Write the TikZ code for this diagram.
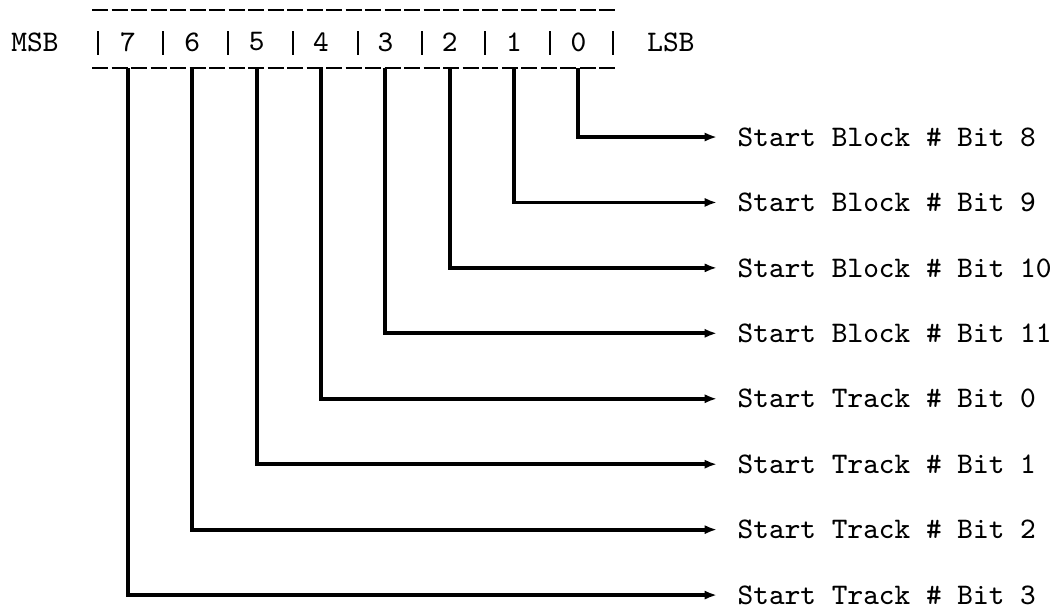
\documentclass[tikz,border=0pt]{standalone}
\usepackage{tikz}
\usetikzlibrary{arrows.meta,positioning}
\newcommand{\regfont}{\fontsize{8.5}{10}\selectfont\ttfamily}
\tikzset{
bitnum/.style = {font=\regfont, inner sep=0pt},
bitlabel/.style = {font=\regfont, anchor=west, inner xsep=0.2cm, inner ysep=0pt},
sep/.style = {line width=0.5pt},
rule/.style = {line width=0.8pt, dash pattern=on 0.16cm off 0.035cm},
wire/.style = {line width=1.1pt, -{Latex[length=3.5pt,width=2.6pt]}}
}

\begin{document}
\begin{tikzpicture}[x=0.01cm, y=-0.01cm, node distance=0.643cm]
\useasboundingbox (0,0) rectangle (1063,611);
\node[bitnum] (msb) at (35,42) {MSB};
\node[bitnum] (b7) at (128,42) {7};
\node[bitnum, right of=b7] (b6) {6};
\node[bitnum, right of=b6] (b5) {5};
\node[bitnum, right of=b5] (b4) {4};
\node[bitnum, right of=b4] (b3) {3};
\node[bitnum, right of=b3] (b2) {2};
\node[bitnum, right of=b2] (b1) {1};
\node[bitnum, right of=b1] (b0) {0};
\node[bitnum] (lsb) at (671,42) {LSB};
\coordinate (tl) at (92,10);
\coordinate (tr) at (617,10);
\coordinate (bl) at (92,68);
\coordinate (br) at (617,68);
\draw[rule] (tl) -- (tr);
\draw[rule] (bl) -- (br);
\draw[sep] (98,31) -- (98,55) (163,31) -- (163,55) (228,31) -- (228,55)
  (293,31) -- (293,55) (358,31) -- (358,55) (422,31) -- (422,55)
  (485,31) -- (485,55) (550,31) -- (550,55) (613,31) -- (613,55);
\node[bitlabel] (l0) at (717,137) {Start Block \# Bit 8};
\node[bitlabel, below=0.654cm of l0.west, anchor=west] (l1) {Start Block \# Bit 9};
\node[bitlabel, below=0.654cm of l1.west, anchor=west] (l2) {Start Block \# Bit 10};
\node[bitlabel, below=0.654cm of l2.west, anchor=west] (l3) {Start Block \# Bit 11};
\node[bitlabel, below=0.654cm of l3.west, anchor=west] (l4) {Start Track \# Bit 0};
\node[bitlabel, below=0.654cm of l4.west, anchor=west] (l5) {Start Track \# Bit 1};
\node[bitlabel, below=0.654cm of l5.west, anchor=west] (l6) {Start Track \# Bit 2};
\node[bitlabel, below=0.654cm of l6.west, anchor=west] (l7) {Start Track \# Bit 3};
\draw[wire] (b0 |- bl) |- (l0.west);
\draw[wire] (b1 |- bl) |- (l1.west);
\draw[wire] (b2 |- bl) |- (l2.west);
\draw[wire] (b3 |- bl) |- (l3.west);
\draw[wire] (b4 |- bl) |- (l4.west);
\draw[wire] (b5 |- bl) |- (l5.west);
\draw[wire] (b6 |- bl) |- (l6.west);
\draw[wire] (b7 |- bl) |- (l7.west);
\end{tikzpicture}
\end{document}
